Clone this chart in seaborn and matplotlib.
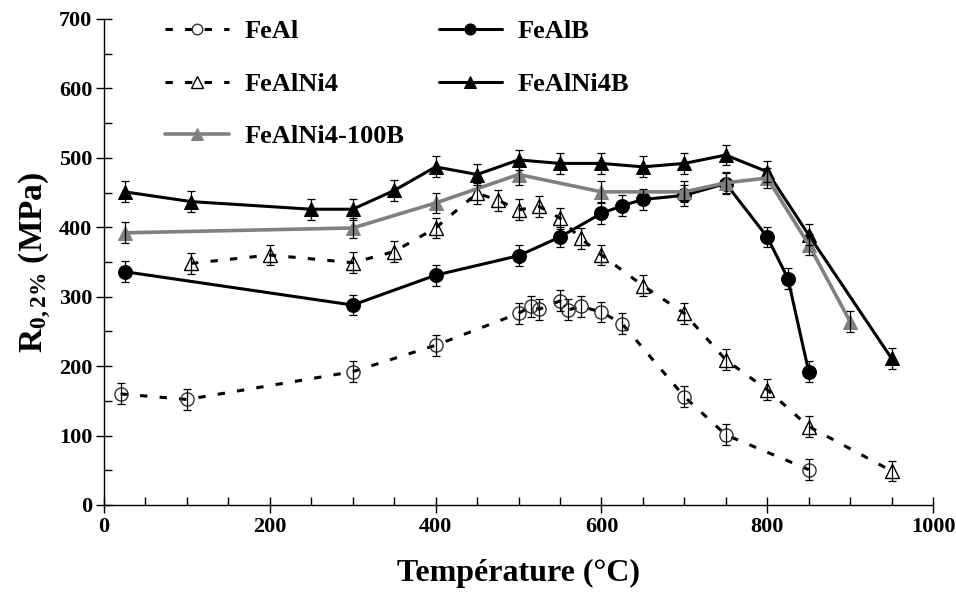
import matplotlib
matplotlib.use("Agg")
import matplotlib.pyplot as plt
from matplotlib.ticker import MultipleLocator
import seaborn as sns

# Yield strength R0.2% (MPa) versus test temperature (°C)
T_feal = [20, 100, 300, 400, 500, 515, 525, 550, 560, 575, 600, 625, 700, 750, 850]
R_feal = [160, 152, 192, 230, 276, 286, 282, 294, 281, 286, 278, 261, 156, 101, 51]

T_ni4 = [105, 200, 300, 350, 400, 450, 475, 500, 525, 550, 575, 600, 650, 700, 750, 800, 850, 950]
R_ni4 = [348, 360, 349, 365, 399, 449, 439, 425, 430, 413, 384, 360, 316, 276, 209, 166, 113, 49]

T_b = [25, 300, 400, 500, 550, 600, 625, 650, 700, 750, 800, 825, 850]
R_b = [336, 288, 331, 359, 386, 420, 431, 440, 446, 463, 386, 326, 192]

T_ni4b = [25, 105, 250, 300, 350, 400, 450, 500, 550, 600, 650, 700, 750, 800, 850, 950]
R_ni4b = [451, 437, 426, 426, 453, 487, 476, 497, 492, 492, 487, 492, 504, 480, 389, 211]

T_100b = [25, 300, 400, 500, 600, 700, 750, 800, 850, 900]
R_100b = [392, 399, 435, 476, 451, 451, 464, 471, 375, 264]

ERR = 15  # measurement scatter (MPa)

sns.set_style("ticks")
plt.rcParams["font.family"] = ["Liberation Serif", "DejaVu Serif"]
plt.rcParams["font.weight"] = "bold"
plt.rcParams["text.color"] = "black"
plt.rcParams["axes.labelcolor"] = "black"
plt.rcParams["xtick.color"] = "black"
plt.rcParams["ytick.color"] = "black"
plt.rcParams["mathtext.fontset"] = "custom"
plt.rcParams["mathtext.rm"] = "Liberation Serif:bold"
plt.rcParams["mathtext.it"] = "Liberation Serif:bold"
plt.rcParams["mathtext.bf"] = "Liberation Serif:bold"
plt.rcParams["mathtext.default"] = "bf"

fig = plt.figure(figsize=(9.56, 5.93), dpi=100)
ax = fig.add_axes([0.1088, 0.1484, 0.8672, 0.8196])

dash = (0, (2.4, 4))
series = [
    ("FeAl", T_feal, R_feal, dict(color="black", marker="o", markerfacecolor="none",
                                  markeredgecolor="#333333", markeredgewidth=1.0,
                                  markersize=9.5, linewidth=2.2, linestyle=dash)),
    ("FeAlNi4", T_ni4, R_ni4, dict(color="black", marker="^", markerfacecolor="none",
                                   markeredgecolor="black", markeredgewidth=1.0,
                                   markersize=10, linewidth=2.2, linestyle=dash)),
    ("FeAlB", T_b, R_b, dict(color="black", marker="o", markerfacecolor="black",
                             markeredgecolor="black", markersize=10, linewidth=2.2)),
    ("FeAlNi4B", T_ni4b, R_ni4b, dict(color="black", marker="^", markerfacecolor="black",
                                      markeredgecolor="black", markersize=10, linewidth=2.2)),
    ("FeAlNi4-100B", T_100b, R_100b, dict(color="#808080", marker="^", markerfacecolor="#808080",
                                          markeredgecolor="#808080", markersize=10, linewidth=2.6)),
]

for name, t, r, kw in series:
    sns.lineplot(x=t, y=r, ax=ax, label=name, errorbar=None, zorder=2, **kw)
    ax.errorbar(t, r, yerr=ERR, fmt="none", ecolor="black", elinewidth=0.9,
                capsize=2.8, capthick=0.9, zorder=3)

ax.set_xlim(0, 1000)
ax.set_ylim(0, 700)
ax.xaxis.set_major_locator(MultipleLocator(200))
ax.xaxis.set_minor_locator(MultipleLocator(50))
ax.yaxis.set_major_locator(MultipleLocator(100))
ax.yaxis.set_minor_locator(MultipleLocator(50))
ax.tick_params(which="major", direction="inout", length=11, width=1, labelsize=16, pad=3)
ax.tick_params(which="minor", direction="in", length=5.5, width=1)
for lab in ax.get_xticklabels() + ax.get_yticklabels():
    lab.set_fontweight("bold")

sns.despine(ax=ax)
for s in ("left", "bottom"):
    ax.spines[s].set_linewidth(1.0)
    ax.spines[s].set_color("black")

ax.set_xlabel("Température (°C)", fontsize=23, fontweight="bold", labelpad=16)
ax.set_ylabel(r"R$_{0,2\%}$ (MPa)", fontsize=24, fontweight="bold", labelpad=4)

handles, labels = ax.get_legend_handles_labels()
order = ["FeAl", "FeAlNi4", "FeAlNi4-100B", "FeAlB", "FeAlNi4B"]
hmap = dict(zip(labels, handles))
ax.legend([hmap[k] for k in order], order, ncol=2, loc="upper left",
          bbox_to_anchor=(0.058, 1.025), frameon=False,
          prop={"weight": "bold", "size": 19}, handlelength=2.4, handletextpad=0.6,
          labelspacing=1.1, columnspacing=1.3, markerscale=0.8, borderpad=0)

fig.savefig("out.png", dpi=100)
